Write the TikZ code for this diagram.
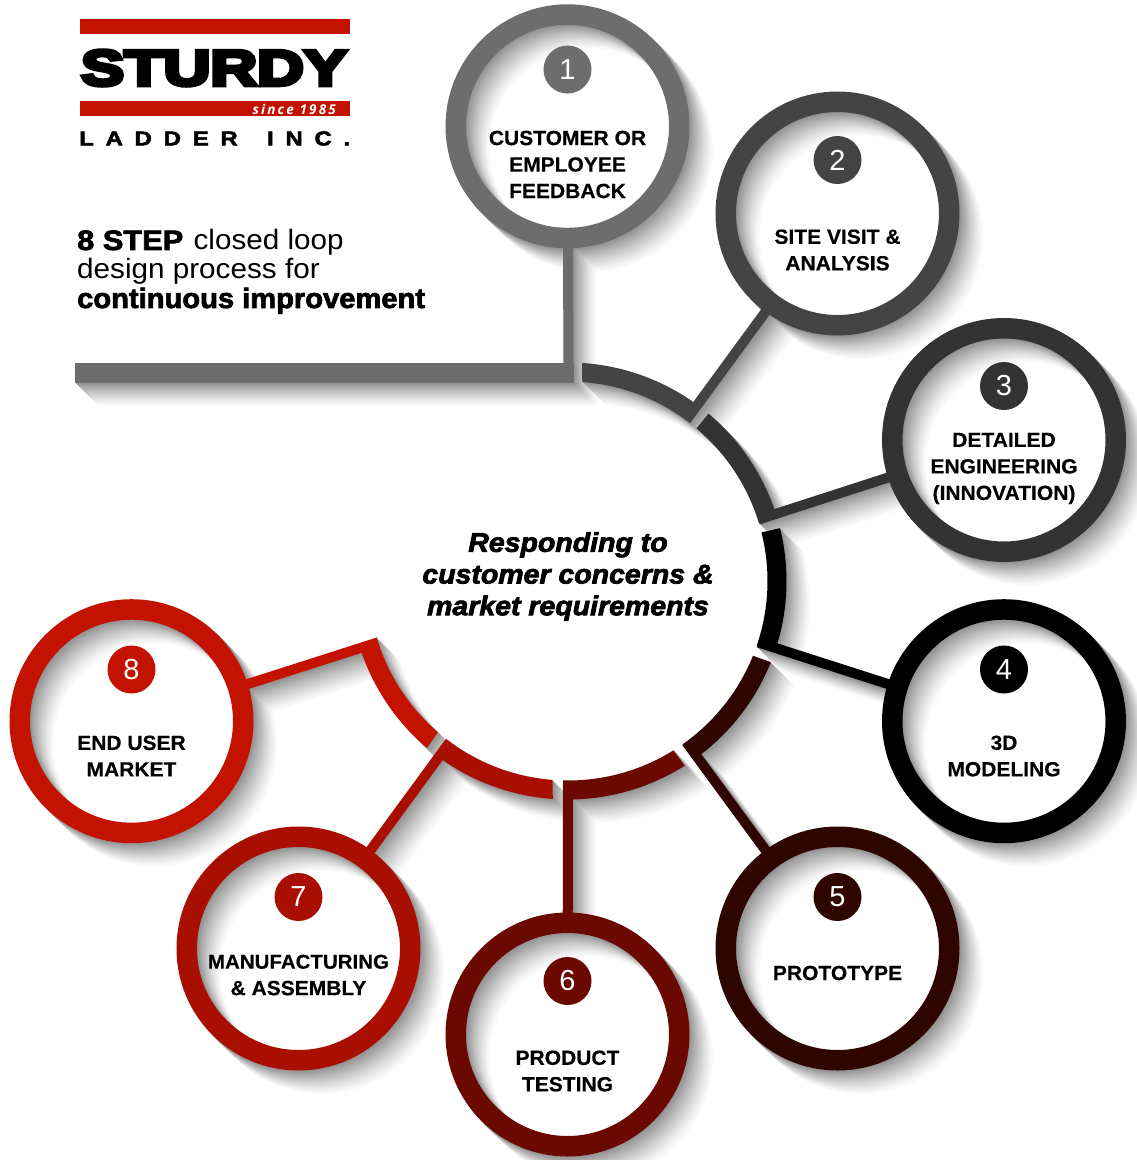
\documentclass[tikz,border=0pt]{standalone}
\usepackage{fontspec}
\setmainfont{Liberation Sans}
\newfontfamily\labelfont{Liberation Sans}[FakeBold=0.35,FakeStretch=1.025]
\newfontfamily\blackfont{Liberation Sans}[FakeBold=2.5,FakeStretch=1.1]
\newfontfamily\improvefont{Liberation Sans}[FakeBold=2.5,FakeStretch=1.04]
\newfontfamily\hubfont{Liberation Sans}[FakeBold=2.8,FakeStretch=1.055]
\newfontfamily\titlefont{Liberation Sans}[FakeStretch=1.06]
\newfontfamily\sturdyfont{Liberation Sans}[FakeBold=8,FakeStretch=1.1]
\newfontfamily\ladderfont{Liberation Sans}[FakeBold=2.5,FakeStretch=1.2]
\newfontfamily\sincefont{Open Sans}[LetterSpace=16]
\definecolor{step1}{HTML}{6D6D6D}
\definecolor{step2}{HTML}{444444}
\definecolor{step3}{HTML}{333333}
\definecolor{step4}{HTML}{000000}
\definecolor{step5}{HTML}{2F0500}
\definecolor{step6}{HTML}{6B0900}
\definecolor{step7}{HTML}{A90F00}
\definecolor{step8}{HTML}{C31300}
\tikzset{
  ringnode/.style={circle,draw=#1,line width=20.5pt,minimum size=223.5pt,inner sep=0pt,outer sep=0pt},
  badgenode/.style={circle,fill=#1,minimum size=48pt,inner sep=0pt,outer sep=0pt,text=white,font=\fontsize{29}{29}\selectfont},
  labelnode/.style={align=center,inner sep=0pt,font=\fontsize{20.5}{26.5}\selectfont\labelfont\bfseries},
  connector/.style={draw=#1,line width=10pt},
}
\newcommand{\bandpath}[4]{plot[domain=#1:#2,samples=30,variable=\t] ({568+218.5*cos(\t)},{581+218.5*sin(\t)}) -- plot[domain=#4:#3,samples=30,variable=\t] ({568+199.5*cos(\t)},{581+199.5*sin(\t)}) -- cycle}
\newcommand{\bands}[8]{%
  \fill[#1] \bandpath{-86.3}{-55.2}{-85.9}{-52.5};
  \fill[#2] \bandpath{-50}{-19.4}{-49.9}{-16.8};
  \fill[#3] \bandpath{-14}{16.4}{-14.1}{19};
  \fill[#4] \bandpath{21.8}{52.4}{22}{55};
  \fill[#5] \bandpath{88.8}{57.7}{91.5}{58.1};
  \fill[#6] \bandpath{94}{125.1}{94.4}{127.7};
  \fill[#7] \bandpath{130.2}{161}{130.7}{163.6};
}
\begin{document}
\begin{tikzpicture}[x=1pt,y=-1pt]
\useasboundingbox (0,0) rectangle (1136,1160);
% soft long shadows: far (pale) copies first, near (dark) copies over them
\foreach \i in {24,23,...,1}{
  \pgfmathsetmacro{\shadelevel}{44*pow(1-\i/25,1.25)}
  \colorlet{shadowtone}{black!\shadelevel!white}
  \begin{scope}[shift={(\i,\i)}]
    \foreach \cx/\cy in {567.5/126.3,837.5/213.5,1004/440,1004/721.2,837.5/948.5,567.5/1034.5,298.5/948.5,131.5/721.2}
      \draw[shadowtone,line width=20.5pt] (\cx,\cy) circle (111.75);
    \bands{shadowtone}{shadowtone}{shadowtone}{shadowtone}{shadowtone}{shadowtone}{shadowtone}{}
    \foreach \a in {-53.7,-17.9,17.9,53.7,90,126.3,162.1}
      \draw[shadowtone,line width=10pt] ([shift={(568,581)}]\a:200) -- ([shift={(568,581)}]\a:340);
    \draw[shadowtone,line width=10pt] (568,240) -- (568,373);
    \fill[shadowtone] (75.2,363) rectangle (573.6,383);
  \end{scope}
}
% hub text
\node[align=center,inner sep=0pt,font=\fontsize{27}{31.7}\selectfont\hubfont\bfseries\itshape] (hub) at (568,576.5)
  {Responding to\\customer concerns \&\\market requirements};
% arcs
\bands{step2}{step3}{step4}{step5}{step6}{step7}{step8}{}
% steps
\foreach \n/\cx/\cy/\by/\ly/\txt in {
  1/567.5/126.3/69.5/164.5/{CUSTOMER OR\\EMPLOYEE\\FEEDBACK},
  2/837.5/213.5/160/250/{SITE VISIT \&\\ANALYSIS},
  3/1004/440/386/468.5/{DETAILED\\ENGINEERING\\(INNOVATION)},
  4/1004/721.2/669.5/756/{3D\\MODELING},
  5/837.5/948.5/897/973/{PROTOTYPE},
  6/567.5/1034.5/981/1071/{PRODUCT\\TESTING},
  7/298.5/948.5/897/975/{\fontsize{20}{26.5}\selectfont MANUFACTURING\\\& ASSEMBLY},
  8/131.5/721.2/669.5/756/{END USER\\MARKET}}{
  \node[ringnode=step\n] (s\n) at (\cx,\cy) {};
  \node[badgenode=step\n] (b\n) at (\cx,\by) {\raisebox{-1pt}{\n}};
  \node[labelnode] (l\n) at (\cx,\ly) {\txt};
}
% connectors
\foreach \n/\a in {2/-53.7,3/-17.9,4/17.9,5/53.7,6/90,7/126.3,8/162.1}{
  \coordinate (c\n) at ([shift={(568,581)}]\a:200);
  \draw[connector=step\n] (c\n) -- (s\n);
}
\coordinate (barL) at (75.2,373);
\coordinate (barR) at (573.6,373);
\coordinate (barJ) at (568.5,373);
\draw[step1,line width=20pt] (barL) -- (barR);
\draw[connector=step1] (s1) -- (barJ);
% logo
\fill[step8] (80,19) rectangle (350,34);
\fill[step8] (80,101) rectangle (350,116);
\node[inner sep=0pt,anchor=center] (sturdy) at (214,68) {\resizebox{266pt}{35pt}{\sturdyfont\bfseries STURDY}};
\node[inner sep=0pt,anchor=east,text=white,font=\fontsize{13.5}{13.5}\selectfont\sincefont\bfseries\itshape] (since) at (336,109) {since 1985};
\node[inner sep=0pt,anchor=west,font=\fontsize{20}{20}\selectfont\ladderfont\bfseries] (ladder) at (79,138.5)
  {\makebox[271pt][s]{L\hfill A\hfill D\hfill D\hfill E\hfill R\hspace{0pt plus 2.5fill}I\hfill N\hfill C\hfill .}};
% title
\node[inner sep=0pt,anchor=north west,align=left,font=\fontsize{28}{29}\selectfont\titlefont] (title) at (77,229.5)
  {{\blackfont\bfseries 8 STEP}\hspace{2pt} closed loop\\design process for\\{\improvefont\bfseries continuous improvement}};
\end{tikzpicture}
\end{document}
